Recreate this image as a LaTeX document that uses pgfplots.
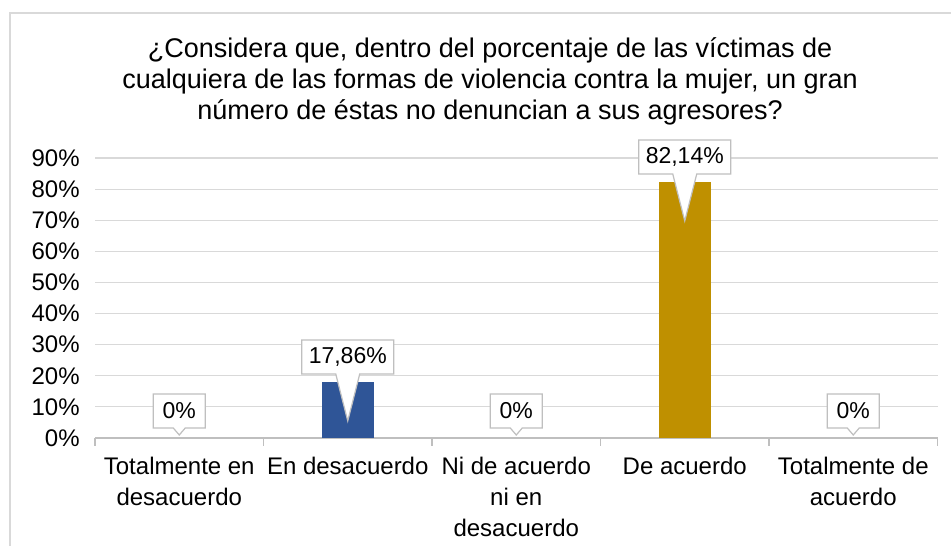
\documentclass[border=0pt]{standalone}
\usepackage{pgfplots}
\pgfplotsset{compat=1.18}
\usepackage{fontspec}
\setmainfont{Liberation Sans}
\usetikzlibrary{shapes.callouts}
\definecolor{barblue}{HTML}{2F5597}
\definecolor{bargold}{HTML}{BF9000}
\definecolor{gridgray}{HTML}{D9D9D9}
\definecolor{linegray}{HTML}{BFBFBF}
\definecolor{calloutgray}{HTML}{BFBFBF}

\begin{document}
\begin{tikzpicture}
% chart area frame (cropped at right and bottom)
\draw[gridgray, line width=0.75pt] (5pt,-5pt) -- (5pt,266pt) -- (480pt,266pt);

\node[align=center, font=\fontsize{13.5}{15.5}\selectfont] at (245pt,232pt)
  {¿Considera que, dentro del porcentaje de las víctimas de\\
   cualquiera de las formas de violencia contra la mujer, un gran\\
   número de éstas no denuncian a sus agresores?};

\begin{axis}[
  at={(47.5pt,53.5pt)}, anchor=south west,
  scale only axis, width=421.25pt, height=140pt,
  xmin=-0.5, xmax=4.5, ymin=0, ymax=90,
  ybar,
  axis lines*=left,
  x axis line style={draw=linegray, line width=0.6pt, -},
  y axis line style={draw=none},
  xtick={0,1,2,3,4},
  xticklabels={Totalmente en\\desacuerdo, En desacuerdo, Ni de acuerdo\\ni en\\desacuerdo, De acuerdo, Totalmente de\\acuerdo},
  minor xtick={-0.5,0.5,1.5,2.5,3.5,4.5},
  ytick={0,10,...,90},
  yticklabel={\pgfmathprintnumber{\tick}\%},
  major tick length=0pt, minor tick length=4pt, tick align=outside,
  minor tick style={draw=linegray, line width=0.6pt},
  ymajorgrids, grid style={draw=gridgray, line width=0.6pt},
  /pgf/number format/assume math mode=true,
  /pgf/number format/use comma,
  x tick label style={font=\fontsize{12}{15.5}\selectfont, align=center, anchor=north, inner sep=0pt, yshift=-9.5pt},
  y tick label style={font=\fontsize{12}{15.5}\selectfont, anchor=east, inner sep=0pt, xshift=-7.5pt},
  nodes near coords={\pgfmathprintnumber[fixed, precision=2, use comma, assume math mode=true]{\pgfplotspointmeta}\%},
  every node near coord/.append style={font=\fontsize{11.5}{14}\selectfont, text=black,
     rectangle callout, draw=calloutgray, fill=white, line width=0.6pt,
     anchor=center, inner xsep=3.5pt, minimum height=17pt},
]
% zero-valued categories
\addplot[draw=none, fill=none, bar width=26.25pt, bar shift=0pt,
  every node near coord/.append style={yshift=13.5pt, minimum width=26pt,
     callout relative pointer={(0pt,-3.5pt)}, callout pointer width=6pt}]
  coordinates {(0,0) (2,0) (4,0)};
% En desacuerdo
\addplot[draw=none, fill=barblue, bar width=26.25pt, bar shift=0pt,
  every node near coord/.append style={yshift=12.75pt,
     callout relative pointer={(0pt,-23.5pt)}, callout pointer width=12pt}]
  coordinates {(1,17.86)};
% De acuerdo
\addplot[draw=none, fill=bargold, bar width=26.25pt, bar shift=0pt,
  every node near coord/.append style={yshift=12.75pt,
     callout relative pointer={(0pt,-23.5pt)}, callout pointer width=12pt}]
  coordinates {(3,82.14)};
\end{axis}

\pgfresetboundingbox
\useasboundingbox (0,0) rectangle (475.5pt,272.5pt);
\end{tikzpicture}
\end{document}
